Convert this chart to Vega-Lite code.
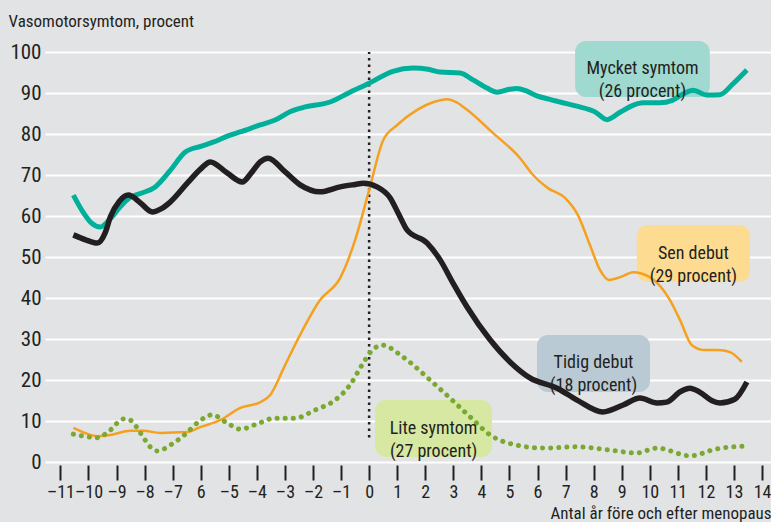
{
  "$schema": "https://vega.github.io/schema/vega-lite/v6.json",
  "width": 726,
  "height": 410,
  "autosize": "none",
  "padding": {"left": 45, "top": 52, "right": 0, "bottom": 60},
  "background": "#e2e3e5",
  "config": {
    "view": {"stroke": null},
    "font": "Roboto Condensed, Liberation Sans Narrow, Roboto, sans-serif"
  },
  "datasets": {
    "lines": [
      {"s": "teal", "x": -10.54, "y": 65.1}, {"s": "teal", "x": -10.2, "y": 61}, {"s": "teal", "x": -9.9, "y": 58.3}, {"s": "teal", "x": -9.58, "y": 57.3}, {"s": "teal", "x": -9.2, "y": 59.5}, {"s": "teal", "x": -8.9, "y": 62}, {"s": "teal", "x": -8.51, "y": 64.6}, {"s": "teal", "x": -8.1, "y": 65.6}, {"s": "teal", "x": -7.62, "y": 67.1}, {"s": "teal", "x": -7.1, "y": 71}, {"s": "teal", "x": -6.55, "y": 75.6}, {"s": "teal", "x": -6.0, "y": 77}, {"s": "teal", "x": -5.56, "y": 78}, {"s": "teal", "x": -5.0, "y": 79.6}, {"s": "teal", "x": -4.6, "y": 80.5}, {"s": "teal", "x": -3.88, "y": 82.2}, {"s": "teal", "x": -3.35, "y": 83.4}, {"s": "teal", "x": -2.8, "y": 85.5}, {"s": "teal", "x": -2.28, "y": 86.6}, {"s": "teal", "x": -1.39, "y": 87.8}, {"s": "teal", "x": -0.68, "y": 90.2}, {"s": "teal", "x": 0, "y": 92.4}, {"s": "teal", "x": 0.85, "y": 95.3}, {"s": "teal", "x": 1.57, "y": 96.1}, {"s": "teal", "x": 2.1, "y": 95.8}, {"s": "teal", "x": 2.53, "y": 95.1}, {"s": "teal", "x": 3.24, "y": 94.9}, {"s": "teal", "x": 3.7, "y": 93.2}, {"s": "teal", "x": 4.2, "y": 91.2}, {"s": "teal", "x": 4.56, "y": 90.2}, {"s": "teal", "x": 5.0, "y": 90.9}, {"s": "teal", "x": 5.27, "y": 91.1}, {"s": "teal", "x": 5.6, "y": 90.5}, {"s": "teal", "x": 5.98, "y": 89.3}, {"s": "teal", "x": 6.4, "y": 88.5}, {"s": "teal", "x": 6.8, "y": 87.8}, {"s": "teal", "x": 7.4, "y": 86.8}, {"s": "teal", "x": 8.05, "y": 85.4}, {"s": "teal", "x": 8.48, "y": 83.5}, {"s": "teal", "x": 8.94, "y": 85.3}, {"s": "teal", "x": 9.4, "y": 87}, {"s": "teal", "x": 9.75, "y": 87.6}, {"s": "teal", "x": 10.36, "y": 87.6}, {"s": "teal", "x": 10.8, "y": 88.2}, {"s": "teal", "x": 11.2, "y": 89.8}, {"s": "teal", "x": 11.54, "y": 90.7}, {"s": "teal", "x": 12.04, "y": 89.5}, {"s": "teal", "x": 12.5, "y": 89.6}, {"s": "teal", "x": 12.96, "y": 92.2}, {"s": "teal", "x": 13.46, "y": 95.6},
      {"s": "black", "x": -10.54, "y": 55.4}, {"s": "black", "x": -10.1, "y": 54.2}, {"s": "black", "x": -9.69, "y": 53.4}, {"s": "black", "x": -9.4, "y": 56}, {"s": "black", "x": -9.22, "y": 59.8}, {"s": "black", "x": -8.9, "y": 63.6}, {"s": "black", "x": -8.58, "y": 65.1}, {"s": "black", "x": -8.15, "y": 63.2}, {"s": "black", "x": -7.73, "y": 61}, {"s": "black", "x": -7.4, "y": 61.8}, {"s": "black", "x": -7.09, "y": 63.4}, {"s": "black", "x": -6.48, "y": 68}, {"s": "black", "x": -6.0, "y": 71.5}, {"s": "black", "x": -5.66, "y": 73.2}, {"s": "black", "x": -5.06, "y": 70.5}, {"s": "black", "x": -4.52, "y": 68.3}, {"s": "black", "x": -4.2, "y": 70.5}, {"s": "black", "x": -3.88, "y": 73.2}, {"s": "black", "x": -3.6, "y": 74.1}, {"s": "black", "x": -3.0, "y": 70.8}, {"s": "black", "x": -2.46, "y": 67.6}, {"s": "black", "x": -1.75, "y": 65.9}, {"s": "black", "x": -1.03, "y": 67.1}, {"s": "black", "x": -0.5, "y": 67.7}, {"s": "black", "x": -0.21, "y": 68}, {"s": "black", "x": 0.28, "y": 67.1}, {"s": "black", "x": 0.75, "y": 64.4}, {"s": "black", "x": 1.05, "y": 60.5}, {"s": "black", "x": 1.35, "y": 56.6}, {"s": "black", "x": 2.07, "y": 53.4}, {"s": "black", "x": 2.53, "y": 49.3}, {"s": "black", "x": 3.0, "y": 43.5}, {"s": "black", "x": 3.49, "y": 37.8}, {"s": "black", "x": 4.31, "y": 29.8}, {"s": "black", "x": 5.02, "y": 24.4}, {"s": "black", "x": 5.73, "y": 20.5}, {"s": "black", "x": 6.7, "y": 18}, {"s": "black", "x": 7.41, "y": 15.1}, {"s": "black", "x": 8.33, "y": 12.2}, {"s": "black", "x": 9.05, "y": 13.9}, {"s": "black", "x": 9.65, "y": 15.6}, {"s": "black", "x": 10.26, "y": 14.4}, {"s": "black", "x": 10.6, "y": 14.6}, {"s": "black", "x": 11.1, "y": 17.2}, {"s": "black", "x": 11.43, "y": 18}, {"s": "black", "x": 11.79, "y": 17}, {"s": "black", "x": 12.2, "y": 15}, {"s": "black", "x": 12.5, "y": 14.4}, {"s": "black", "x": 13.03, "y": 15.3}, {"s": "black", "x": 13.46, "y": 19.5},
      {"s": "orange", "x": -10.54, "y": 8.3}, {"s": "orange", "x": -10.1, "y": 7}, {"s": "orange", "x": -9.69, "y": 6.3}, {"s": "orange", "x": -9.22, "y": 6.6}, {"s": "orange", "x": -8.51, "y": 7.6}, {"s": "orange", "x": -8.05, "y": 7.6}, {"s": "orange", "x": -7.44, "y": 7.1}, {"s": "orange", "x": -6.48, "y": 7.3}, {"s": "orange", "x": -6.02, "y": 8.5}, {"s": "orange", "x": -5.31, "y": 10.2}, {"s": "orange", "x": -4.59, "y": 13.2}, {"s": "orange", "x": -3.88, "y": 14.6}, {"s": "orange", "x": -3.53, "y": 16.3}, {"s": "orange", "x": -2.99, "y": 23.7}, {"s": "orange", "x": -2.46, "y": 31}, {"s": "orange", "x": -1.75, "y": 39.5}, {"s": "orange", "x": -1.03, "y": 44.9}, {"s": "orange", "x": -0.5, "y": 54.1}, {"s": "orange", "x": 0, "y": 66.3}, {"s": "orange", "x": 0.5, "y": 78.5}, {"s": "orange", "x": 1.0, "y": 82.2}, {"s": "orange", "x": 1.71, "y": 85.9}, {"s": "orange", "x": 2.3, "y": 87.8}, {"s": "orange", "x": 2.78, "y": 88.5}, {"s": "orange", "x": 3.1, "y": 87.8}, {"s": "orange", "x": 3.49, "y": 85.9}, {"s": "orange", "x": 4.42, "y": 80.2}, {"s": "orange", "x": 5.38, "y": 74.1}, {"s": "orange", "x": 5.84, "y": 70}, {"s": "orange", "x": 6.37, "y": 66.8}, {"s": "orange", "x": 6.98, "y": 64.4}, {"s": "orange", "x": 7.44, "y": 60.2}, {"s": "orange", "x": 7.87, "y": 52.9}, {"s": "orange", "x": 8.23, "y": 46.8}, {"s": "orange", "x": 8.55, "y": 44.4}, {"s": "orange", "x": 9.0, "y": 45.2}, {"s": "orange", "x": 9.4, "y": 46.3}, {"s": "orange", "x": 10.0, "y": 45.1}, {"s": "orange", "x": 10.72, "y": 39.5}, {"s": "orange", "x": 11.08, "y": 34.6}, {"s": "orange", "x": 11.5, "y": 28.5}, {"s": "orange", "x": 11.97, "y": 27.3}, {"s": "orange", "x": 12.43, "y": 27.3}, {"s": "orange", "x": 12.86, "y": 26.8}, {"s": "orange", "x": 13.28, "y": 24.4},
      {"s": "green", "x": -10.54, "y": 6.8}, {"s": "green", "x": -10.0, "y": 6.1}, {"s": "green", "x": -9.69, "y": 5.9}, {"s": "green", "x": -9.22, "y": 7.8}, {"s": "green", "x": -8.76, "y": 10.5}, {"s": "green", "x": -8.51, "y": 10.2}, {"s": "green", "x": -8.15, "y": 7.1}, {"s": "green", "x": -7.8, "y": 3.7}, {"s": "green", "x": -7.55, "y": 2.7}, {"s": "green", "x": -7.02, "y": 4.4}, {"s": "green", "x": -6.55, "y": 6.8}, {"s": "green", "x": -6.13, "y": 9.5}, {"s": "green", "x": -5.59, "y": 11.5}, {"s": "green", "x": -5.06, "y": 9.5}, {"s": "green", "x": -4.59, "y": 8}, {"s": "green", "x": -3.99, "y": 9.3}, {"s": "green", "x": -3.35, "y": 10.7}, {"s": "green", "x": -2.64, "y": 10.7}, {"s": "green", "x": -1.92, "y": 12.7}, {"s": "green", "x": -1.21, "y": 15.1}, {"s": "green", "x": -0.68, "y": 18.8}, {"s": "green", "x": -0.25, "y": 23.7}, {"s": "green", "x": 0.1, "y": 27.2}, {"s": "green", "x": 0.46, "y": 28.5}, {"s": "green", "x": 1.21, "y": 25.6}, {"s": "green", "x": 2.17, "y": 20}, {"s": "green", "x": 2.88, "y": 15.6}, {"s": "green", "x": 3.6, "y": 11}, {"s": "green", "x": 4.31, "y": 6.6}, {"s": "green", "x": 5.27, "y": 4.1}, {"s": "green", "x": 6.2, "y": 3.4}, {"s": "green", "x": 7.41, "y": 3.7}, {"s": "green", "x": 8.58, "y": 2.9}, {"s": "green", "x": 9.54, "y": 2.2}, {"s": "green", "x": 10.26, "y": 3.4}, {"s": "green", "x": 11.43, "y": 1.5}, {"s": "green", "x": 12.39, "y": 3.2}, {"s": "green", "x": 13.46, "y": 3.9}
    ],
    "boxes": [
      {"label": "Mycket symtom\n(26 procent)", "x": 7.34, "x2": 12.14, "y": 89.0, "y2": 102.7, "fill": "#9fd9cf"},
      {"label": "Sen debut\n(29 procent)", "x": 9.54, "x2": 13.57, "y": 43.9, "y2": 57.8, "fill": "#fddc92"},
      {"label": "Tidig debut\n(18 procent)", "x": 5.98, "x2": 10.01, "y": 17.1, "y2": 31.0, "fill": "#b9cad4"},
      {"label": "Lite symtom\n(27 procent)", "x": 0.21, "x2": 4.38, "y": 1.2, "y2": 15.1, "fill": "#d6e8a2"}
    ]
  },
  "layer": [
    {
      "data": {"name": "boxes"},
      "mark": {"type": "rect", "cornerRadius": 11},
      "encoding": {
        "x": {"field": "x", "type": "quantitative", "scale": {"domain": [-11.55, 14.32], "nice": false, "zero": false},
          "axis": {"values": [-11,-10,-9,-8,-7,-6,-5,-4,-3,-2,-1,0,1,2,3,4,5,6,7,8,9,10,11,12,13,14],
            "tickCount": 40,
            "labelExpr": "datum.value == -6 ? '6' : (datum.value < 0 ? '–' + abs(datum.value) : '' + datum.value)",
            "labelOverlap": false, "labelBound": false,
            "grid": false, "domain": false, "offset": 3, "tickSize": 15, "tickWidth": 2, "tickColor": "#231f20",
            "labelFontSize": 18, "labelColor": "#231f20", "labelPadding": 3,
            "title": "Antal år före och efter menopaus", "titleFontSize": 17, "titleFontWeight": "normal", "titleColor": "#231f20",
            "titleAlign": "right", "titleAnchor": "end", "titleX": 726, "titleY": 53, "titleBaseline": "alphabetic"}},
        "x2": {"field": "x2"},
        "y": {"field": "y", "type": "quantitative", "scale": {"domain": [0, 100], "nice": false},
          "axis": {"values": [0,10,20,30,40,50,60,70,80,90,100], "tickCount": 20, "grid": true, "gridColor": "#ffffff", "gridWidth": 2, "gridOpacity": 1,
            "domain": false, "ticks": false, "labelPadding": 4, "labelFontSize": 21, "labelColor": "#231f20",
            "title": "Vasomotorsymtom, procent", "titleAngle": 0, "titleAlign": "left", "titleAnchor": "start", "titleBaseline": "alphabetic",
            "titleX": -37, "titleY": -26, "titleFontSize": 17, "titleFontWeight": "normal", "titleColor": "#231f20"}},
        "y2": {"field": "y2"},
        "fill": {"field": "fill", "type": "nominal", "scale": null}
      }
    },
    {
      "data": {"values": [{"x": 0, "y": 6, "y2": 100}]},
      "mark": {"type": "rule", "color": "#231f20", "strokeWidth": 2.5, "strokeDash": [2.5, 4]},
      "encoding": {
        "x": {"field": "x", "type": "quantitative"},
        "y": {"field": "y", "type": "quantitative"},
        "y2": {"field": "y2"}
      }
    },
    {
      "data": {"name": "lines"},
      "transform": [{"filter": "datum.s == 'orange'"}],
      "mark": {"type": "line", "interpolate": "monotone", "color": "#f5a01e", "strokeWidth": 2.5},
      "encoding": {"x": {"field": "x", "type": "quantitative"}, "y": {"field": "y", "type": "quantitative"}}
    },
    {
      "data": {"name": "lines"},
      "transform": [{"filter": "datum.s == 'green'"}],
      "mark": {"type": "line", "interpolate": "monotone", "color": "#7aa832", "strokeWidth": 5, "strokeDash": [0.1, 8], "strokeCap": "round"},
      "encoding": {"x": {"field": "x", "type": "quantitative"}, "y": {"field": "y", "type": "quantitative"}}
    },
    {
      "data": {"name": "lines"},
      "transform": [{"filter": "datum.s == 'teal'"}],
      "mark": {"type": "line", "interpolate": "monotone", "color": "#00b09b", "strokeWidth": 5},
      "encoding": {"x": {"field": "x", "type": "quantitative"}, "y": {"field": "y", "type": "quantitative"}}
    },
    {
      "data": {"name": "lines"},
      "transform": [{"filter": "datum.s == 'black'"}],
      "mark": {"type": "line", "interpolate": "monotone", "color": "#231f20", "strokeWidth": 5.5},
      "encoding": {"x": {"field": "x", "type": "quantitative"}, "y": {"field": "y", "type": "quantitative"}}
    },
    {
      "data": {"name": "boxes"},
      "transform": [{"calculate": "(datum.x + datum.x2) / 2", "as": "cx"}, {"calculate": "(datum.y + datum.y2) / 2", "as": "cy"}],
      "mark": {"type": "text", "fontSize": 18, "color": "#231f20", "lineBreak": "\n", "lineHeight": 23, "align": "center", "baseline": "middle"},
      "encoding": {
        "x": {"field": "cx", "type": "quantitative"},
        "y": {"field": "cy", "type": "quantitative"},
        "text": {"field": "label"}
      }
    }
  ]
}
